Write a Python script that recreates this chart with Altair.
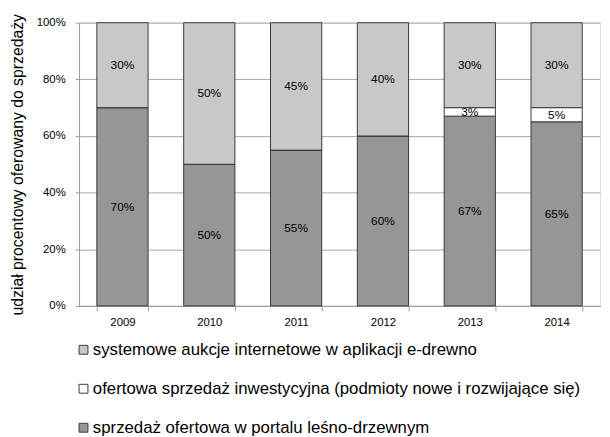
import altair as alt
import pandas as pd

years = ["2009", "2010", "2011", "2012", "2013", "2014"]
portal = [70, 50, 55, 60, 67, 65]
inwest = [0, 0, 0, 0, 3, 5]
aukcje = [30, 50, 45, 40, 30, 30]

s_aukcje = "systemowe aukcje internetowe w aplikacji e-drewno"
s_inwest = "ofertowa sprzedaż inwestycyjna (podmioty nowe i rozwijające się)"
s_portal = "sprzedaż ofertowa w portalu leśno-drzewnym"

rows = []
for i, y in enumerate(years):
    rows.append({"year": y, "series": s_portal, "value": portal[i], "ord": 0})
    rows.append({"year": y, "series": s_inwest, "value": inwest[i], "ord": 1})
    rows.append({"year": y, "series": s_aukcje, "value": aukcje[i], "ord": 2})
df = pd.DataFrame(rows)
df["frac"] = df["value"] / 100.0
df["label"] = df["value"].astype(str) + "%"

FONT = "Liberation Sans"

base = alt.Chart(df).encode(
    x=alt.X("year:N", title=None, scale=alt.Scale(paddingInner=0.41, paddingOuter=0.205),
            axis=alt.Axis(labelAngle=0, tickBand="extent", grid=False, domainColor="#9a9a9a",
                          tickColor="#9a9a9a", labelFontSize=11.5, labelColor="#000", labelPadding=6,
                          tickSize=5, labelFont=FONT)),
)

bars = base.mark_bar(stroke="#3a3a3a", strokeWidth=1).encode(
    y=alt.Y("frac:Q", stack="zero", title="udział procentowy oferowany do sprzedaży",
            scale=alt.Scale(domain=[0, 1]),
            axis=alt.Axis(format="%", values=[0, 0.2, 0.4, 0.6, 0.8, 1.0], gridColor="#a8a8a8",
                          domainColor="#9a9a9a", tickColor="#9a9a9a", labelFontSize=11.5,
                          labelColor="#000", titleFontSize=16, titleFontWeight="normal",
                          titleColor="#000", titlePadding=11, labelFont=FONT, titleFont=FONT,
                          tickSize=4, labelPadding=10)),
    color=alt.Color("series:N",
                    scale=alt.Scale(domain=[s_aukcje, s_inwest, s_portal],
                                    range=["#c8c8c8", "#ffffff", "#969696"]),
                    legend=alt.Legend(title=None, orient="none", legendX=-4, legendY=323,
                                      direction="vertical", symbolType="square", symbolSize=81,
                                      symbolStrokeColor="#3a3a3a", symbolStrokeWidth=1,
                                      labelFontSize=17, labelFont=FONT, labelColor="#000",
                                      rowPadding=21.5, labelLimit=700, labelOffset=1)),
    order=alt.Order("ord:Q", sort="ascending"),
)

texts = base.transform_filter("datum.value > 0").mark_text(
    fontSize=12, font=FONT, color="#000", baseline="middle"
).encode(
    y=alt.Y("frac:Q", stack="zero", bandPosition=0.5),
    text="label:N",
    order=alt.Order("ord:Q", sort="ascending"),
)

chart = (bars + texts).properties(
    width=528, height=287,
    autosize=alt.AutoSizeParams(type="none"),
    padding={"left": 72, "top": 12, "right": 2, "bottom": 130},
).configure_view(stroke=None).configure(background="white")

chart.save("out.html", embed_options={"renderer": "svg", "actions": False})
